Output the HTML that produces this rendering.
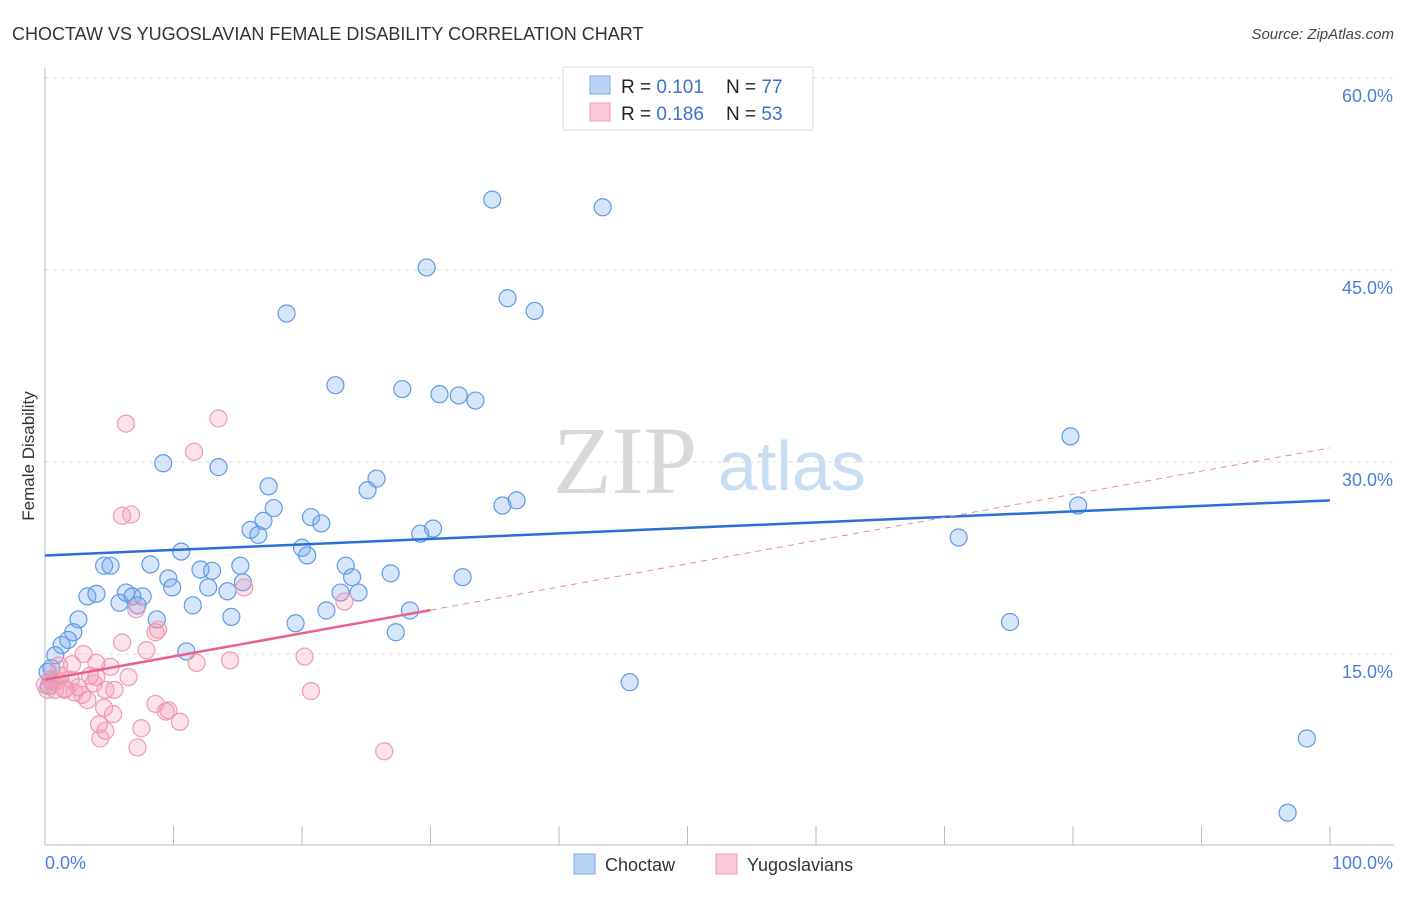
<!DOCTYPE html>
<html><head><meta charset="utf-8"><style>
body{margin:0;background:#fff;width:1406px;height:892px;overflow:hidden;font-family:"Liberation Sans",sans-serif}
</style></head><body>
<svg id="chart" width="1406" height="892" xmlns="http://www.w3.org/2000/svg" font-family="Liberation Sans, sans-serif">
<text x="12" y="40" font-size="18" fill="#333">CHOCTAW VS YUGOSLAVIAN FEMALE DISABILITY CORRELATION CHART</text>
<text x="1394" y="39" font-size="15" font-style="italic" fill="#444" text-anchor="end">Source: ZipAtlas.com</text>
<g>
<text x="553" y="493" font-family="Liberation Serif, serif" font-size="96" fill="#d8d8d8">ZIP</text>
<text x="718" y="490" font-size="70" fill="#c8dcf3">atlas</text>
</g>
<g id="grid"></g>
<line x1="45" y1="68" x2="45" y2="845" stroke="#bbb"/>
<line x1="45" y1="845" x2="1394" y2="845" stroke="#bbb"/>
<g id="xticks"></g>
<text transform="translate(34,456) rotate(-90)" font-size="17" fill="#333" text-anchor="middle">Female Disability</text>
<text x="45" y="869" font-size="18" fill="#4a7fd8">0.0%</text>
<text x="1393" y="869" font-size="18" fill="#4a7fd8" text-anchor="end">100.0%</text>
<g id="points"></g>
<g id="trends"></g>
<g>
<rect x="563" y="67" width="250" height="63" fill="#fff" stroke="#ddd"/>
<rect x="590" y="76" width="20" height="18" fill="#b9d3f5" stroke="#7aa8e6"/>
<rect x="590" y="103" width="20" height="18" fill="#fbc9d8" stroke="#f09ab5"/>
<text x="621" y="93" font-size="19" fill="#222">R = <tspan fill="#3a72d0">0.101</tspan><tspan x="726">N = </tspan><tspan fill="#3a72d0">77</tspan></text>
<text x="621" y="120" font-size="19" fill="#222">R = <tspan fill="#3a72d0">0.186</tspan><tspan x="726">N = </tspan><tspan fill="#3a72d0">53</tspan></text>
</g>
<g>
<rect x="574" y="854" width="21" height="20" fill="#b9d3f5" stroke="#7aa8e6"/>
<text x="605" y="871" font-size="18" fill="#333">Choctaw</text>
<rect x="716" y="854" width="21" height="20" fill="#fbc9d8" stroke="#f09ab5"/>
<text x="747" y="871" font-size="18" fill="#333">Yugoslavians</text>
</g>
</svg>
<script>
const yTicks=[15,30,45,60];
const xTickVals=[10,20,30,40,50,60,70,80,90,100];
const choctawX=[34.8,43.4,29.7,36.0,38.1,18.8,22.6,27.8,30.7,32.2,33.5,79.8,9.2,13.5,25.8,17.4,25.1,36.7,35.6,80.4,17.8,20.7,17.0,21.5,30.2,16.0,16.6,29.2,71.1,20.0,10.6,20.4,4.6,5.1,8.2,15.2,12.1,23.4,13.0,26.9,23.9,32.5,9.6,15.4,9.9,12.7,14.2,3.3,4.0,6.3,6.8,7.6,24.4,23.0,5.8,11.5,7.2,28.4,21.9,14.5,2.6,8.7,19.5,75.1,27.3,2.2,1.8,1.3,0.8,11.0,45.5,0.2,98.2,96.7,0.4,0.5,0.3];
const choctawY=[50.5,49.9,45.2,42.8,41.8,41.6,36.0,35.7,35.3,35.2,34.8,32.0,29.9,29.6,28.7,28.1,27.8,27.0,26.6,26.6,26.4,25.7,25.4,25.2,24.8,24.7,24.3,24.4,24.1,23.3,23.0,22.7,21.9,21.9,22.0,21.9,21.6,21.9,21.5,21.3,21.0,21.0,20.9,20.6,20.2,20.2,19.9,19.5,19.7,19.8,19.5,19.5,19.8,19.8,19.0,18.8,18.8,18.4,18.4,17.9,17.7,17.7,17.4,17.5,16.7,16.7,16.1,15.7,14.9,15.2,12.8,13.6,8.4,2.6,13.0,13.9,12.5];
const yugoX=[6.3,13.5,11.6,6.0,6.7,7.1,8.6,8.8,14.4,20.2,23.3,15.5,6.0,7.9,1.1,3.0,2.1,4.0,5.1,4.0,6.5,3.5,1.2,0.4,0.0,0.8,1.5,2.3,2.9,3.3,5.4,4.7,2.0,20.7,11.8,8.6,9.6,9.4,10.5,4.2,4.6,5.3,7.5,4.3,4.7,7.2,26.4,1.6,0.2,0.6,1.0,2.6,3.8];
const yugoY=[33.0,33.4,30.8,25.8,25.9,18.5,16.7,16.9,14.5,14.8,19.1,20.2,15.9,15.3,14.1,15.0,14.2,14.3,14.0,13.2,13.2,13.3,13.3,13.0,12.6,12.2,12.2,12.0,11.8,11.4,12.2,12.2,13.0,12.1,14.3,11.1,10.6,10.5,9.7,9.5,10.8,10.3,9.2,8.4,9.0,7.7,7.4,12.3,12.2,12.8,12.9,12.4,12.7];
const blueTrend=[22.7,27.0];
const pinkTrend=[13.0,31.1];
const pinkSolidEnd=30;
const NS='http://www.w3.org/2000/svg';
const sx=v=>45+v*12.85, sy=v=>846-v*12.8;
function mk(t,a,p){const e=document.createElementNS(NS,t);for(const k in a)e.setAttribute(k,a[k]);p.appendChild(e);return e;}
const grid=document.getElementById('grid');
yTicks.forEach(t=>{
 const l=mk('line',{x1:45,x2:1394,y1:sy(t),y2:sy(t),stroke:'#ddd','stroke-dasharray':'4,4'},grid);
 
 
 const tx=mk('text',{x:1393,y:sy(t)+24,'font-size':18,fill:'#4a7fd8','text-anchor':'end'},grid);
 tx.textContent=t.toFixed(1)+'%';
 
 
});
const xt=document.getElementById('xticks');
xTickVals.forEach(v=>{
 const l=mk('line',{x1:sx(v),x2:sx(v),y1:826,y2:845,stroke:'#bbb'},xt);
 
 
});
const pts=document.getElementById('points');
choctawX.forEach((x,i)=>{
 const c=mk('circle',{cx:sx(x),cy:sy(choctawY[i]),r:8.5,fill:'rgba(120,170,235,0.3)',stroke:'#5e9be5','stroke-width':1.2},pts);
 
 
});
yugoX.forEach((x,i)=>{
 const c=mk('circle',{cx:sx(x),cy:sy(yugoY[i]),r:8.5,fill:'rgba(245,150,180,0.28)',stroke:'#f09ab5','stroke-width':1.2},pts);
 
 
});
const tr=document.getElementById('trends');
const b=mk('line',{x1:sx(0),y1:sy(blueTrend[0]),x2:sx(100),y2:sy(blueTrend[1]),stroke:'#2a6fd6','stroke-width':2.5},tr);


const pAt=v=>pinkTrend[0]+(pinkTrend[1]-pinkTrend[0])*v/100;
const pd=mk('line',{x1:sx(pinkSolidEnd),y1:sy(pAt(pinkSolidEnd)),x2:sx(100),y2:sy(pinkTrend[1]),stroke:'#e88aa8','stroke-width':1,'stroke-dasharray':'6,5'},tr);


const ps=mk('line',{x1:sx(0),y1:sy(pinkTrend[0]),x2:sx(pinkSolidEnd),y2:sy(pAt(pinkSolidEnd)),stroke:'#e8608c','stroke-width':2.5},tr);


</script>
</body></html>
